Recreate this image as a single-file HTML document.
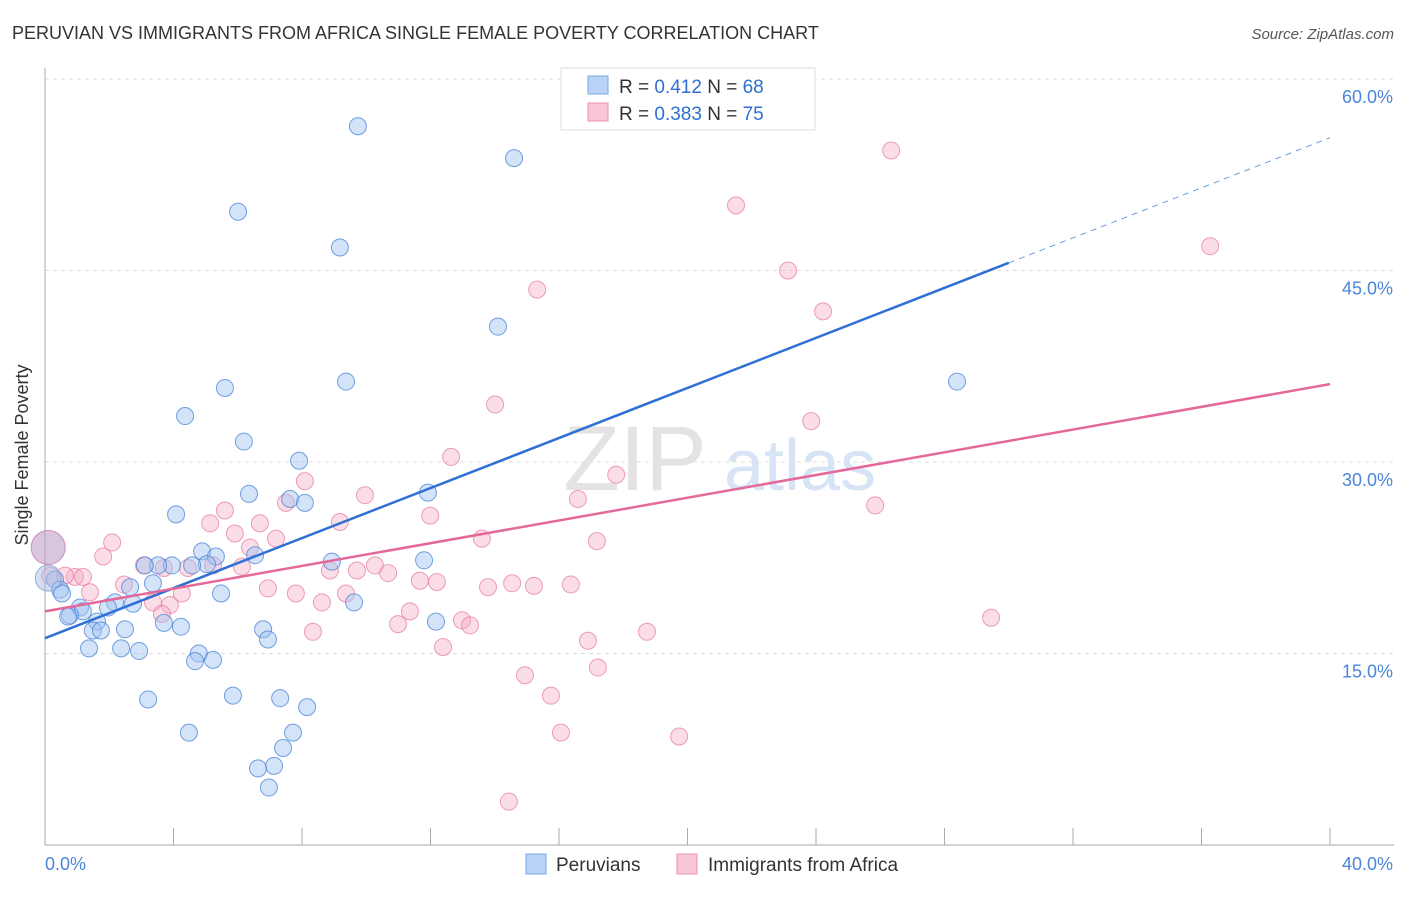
<!DOCTYPE html>
<html><head><meta charset="utf-8"><style>
body{margin:0;background:#fff;font-family:"Liberation Sans",sans-serif;}
svg text{font-family:"Liberation Sans",sans-serif;}
</style></head><body>
<svg id="chart" width="1406" height="892">
<text x="12" y="39" font-size="18" fill="#333">PERUVIAN VS IMMIGRANTS FROM AFRICA SINGLE FEMALE POVERTY CORRELATION CHART</text>
<text x="1394" y="39" font-size="15" fill="#555" font-style="italic" text-anchor="end">Source: ZipAtlas.com</text>
<g id="grid"></g>
<g id="watermark">
<text x="635" y="490" font-size="92" fill="#e3e3e3" font-family="Liberation Serif" text-anchor="middle">ZIP</text>
<text x="800" y="490" font-size="72" fill="#d6e4f5" text-anchor="middle">atlas</text>
</g>
<g id="axes"></g>
<g id="pinkPts"></g>
<g id="bluePts"></g>
<g id="lines"></g>
<text x="28" y="455" font-size="18" fill="#333" text-anchor="middle" transform="rotate(-90 28 455)">Single Female Poverty</text>
<g>
<rect x="561" y="68" width="254" height="62" fill="#fff" stroke="#ddd"/>
<rect x="588" y="76" width="20" height="18" fill="#b8d3f5" stroke="#7aa7e0"/>
<text x="619" y="93" font-size="19" fill="#333">R = <tspan fill="#2f6fd1">0.412</tspan>   N = <tspan fill="#2f6fd1">68</tspan></text>
<rect x="588" y="103" width="20" height="18" fill="#f8c6d4" stroke="#e893ad"/>
<text x="619" y="120" font-size="19" fill="#333">R = <tspan fill="#2f6fd1">0.383</tspan>   N = <tspan fill="#2f6fd1">75</tspan></text>
</g>
<g>
<rect x="526" y="854" width="20" height="20" fill="#b8d3f5" stroke="#7aa7e0"/>
<text x="556" y="871" font-size="19" fill="#333">Peruvians</text>
<rect x="677" y="854" width="20" height="20" fill="#f8c6d4" stroke="#e893ad"/>
<text x="708" y="871" font-size="19" fill="#333">Immigrants from Africa</text>
</g>
</svg>
<script>
const xTicks=[0,4,8,12,16,20,24,28,32,36,40];
const yTicks=[15,30,45,60];
const yTickLabels=["15.0%","30.0%","45.0%","60.0%"];
const blueX=[9.74,14.6,6.01,9.18,14.1,9.37,5.6,28.39,4.36,6.19,7.91,6.35,11.92,7.63,8.09,4.08,4.89,5.32,6.54,8.93,11.8,5.04,3.95,3.52,3.11,4.58,3.36,2.65,0.31,0.47,0.53,5.48,9.62,2.18,2.74,1.96,1.09,1.18,0.78,0.72,1.62,3.7,4.23,2.49,1.49,1.74,6.79,12.17,6.94,1.37,2.37,2.93,4.79,4.67,5.23,3.21,5.85,7.32,8.16,4.48,7.72,7.41,7.13,6.63,6.97];
const blueY=[56.3,53.8,49.6,46.8,40.6,36.3,35.8,36.3,33.6,31.6,30.1,27.5,27.6,27.1,26.8,25.9,23.0,22.6,22.7,22.2,22.3,22.0,21.9,21.9,21.9,21.9,20.5,20.2,20.8,20.0,19.7,19.7,19.0,19.0,18.9,18.6,18.6,18.3,18.0,17.9,17.5,17.4,17.1,16.9,16.8,16.8,16.9,17.5,16.1,15.4,15.4,15.2,15.0,14.4,14.5,11.4,11.7,11.5,10.8,8.8,8.8,7.6,6.2,6.0,4.5];
const pinkX=[26.34,21.51,36.27,23.13,15.32,24.22,14.01,23.85,12.64,17.78,8.09,9.96,16.59,7.5,11.99,25.84,5.14,9.18,6.69,5.6,5.91,17.18,13.6,7.19,2.09,6.38,1.81,5.23,3.08,3.7,4.45,6.13,8.87,9.71,10.27,10.68,11.67,12.2,14.54,13.79,15.22,16.37,2.46,6.94,7.81,9.37,4.26,3.36,3.89,3.64,8.62,11.36,10.99,12.98,13.23,1.4,0.93,0.62,1.18,0.16,16.9,18.74,29.45,12.39,17.21,14.94,15.75,8.34,16.06,19.74,14.44];
const pinkY=[54.4,50.1,46.9,45.0,43.5,41.8,34.5,33.2,30.4,29.0,28.5,27.4,27.1,26.8,25.8,26.6,25.2,25.3,25.2,26.2,24.4,23.8,24.0,24.0,23.7,23.3,22.6,21.9,21.9,21.7,21.7,21.8,21.5,21.5,21.9,21.3,20.7,20.6,20.5,20.2,20.3,20.4,20.4,20.1,19.7,19.7,19.7,19.0,18.8,18.1,19.0,18.3,17.3,17.6,17.2,19.8,21.0,21.1,21.0,21.1,16.0,16.7,17.8,15.5,13.9,13.3,11.7,16.7,8.8,8.5,3.4];
const bigX=[0.1,0.1];
const bigY=[23.3,20.9];
const blueTrend=[16.2,55.4];
const pinkTrend=[18.3,36.1];
const NS="http://www.w3.org/2000/svg";
const sx=v=>45+v/40*1285;
const sy=v=>845-v/60*766;
function mk(tag,attrs,parent){const e=document.createElementNS(NS,tag);for(const k in attrs)e.setAttribute(k,attrs[k]);parent.appendChild(e);return e;}
const grid=document.getElementById('grid'),axes=document.getElementById('axes');
yTicks.forEach((t,i)=>{
 const l=mk('line',{x1:45,x2:1394,y1:sy(t),y2:sy(t),stroke:'#ddd','stroke-dasharray':'4,4'},grid);
 
 
 const tx=mk('text',{x:1393,y:sy(t)+24,'font-size':18,fill:'#4a86d8','text-anchor':'end'},axes);
 tx.textContent=yTickLabels[i];
 
 
});
const ax=mk('line',{x1:45,x2:45,y1:68,y2:845,stroke:'#aaa'},axes);


const bx=mk('line',{x1:45,x2:1394,y1:845,y2:845,stroke:'#aaa'},axes);


xTicks.forEach(t=>{
 const l=mk('line',{x1:sx(t),x2:sx(t),y1:828,y2:845,stroke:'#aaa'},axes);
 
 
});
const xl0=mk('text',{x:45,y:870,'font-size':18,fill:'#4a86d8'},axes);xl0.textContent=xTicks[0].toFixed(1)+'%';


const xl1=mk('text',{x:1393,y:870,'font-size':18,fill:'#4a86d8','text-anchor':'end'},axes);xl1.textContent=xTicks[xTicks.length-1].toFixed(1)+'%';


const pg=document.getElementById('pinkPts'),bg=document.getElementById('bluePts');
pinkX.forEach((x,i)=>{
 const c=mk('circle',{cx:sx(x),cy:sy(pinkY[i]),r:8.5,fill:'rgba(245,170,195,0.4)',stroke:'rgba(230,120,155,0.7)','stroke-width':1},pg);
 
 
});
blueX.forEach((x,i)=>{
 const c=mk('circle',{cx:sx(x),cy:sy(blueY[i]),r:8.5,fill:'rgba(160,195,240,0.45)',stroke:'rgba(70,130,215,0.75)','stroke-width':1},bg);
 
 
});
const b1=mk('circle',{cx:sx(bigX[0]),cy:sy(bigY[0]),r:17,fill:'rgba(190,160,200,0.6)',stroke:'rgba(200,120,170,0.8)'},pg);


const b2=mk('circle',{cx:sx(bigX[1]),cy:sy(bigY[1]),r:13,fill:'rgba(170,190,230,0.5)',stroke:'rgba(120,150,215,0.7)'},bg);


const lg=document.getElementById('lines');
const bEnd=30;
const by=x=>blueTrend[0]+(blueTrend[1]-blueTrend[0])*x/40;
const l1=mk('line',{x1:sx(0),y1:sy(by(0)),x2:sx(bEnd),y2:sy(by(bEnd)),stroke:'#2f6fd6','stroke-width':2.5},lg);


const l2=mk('line',{x1:sx(bEnd),y1:sy(by(bEnd)),x2:sx(40),y2:sy(by(40)),stroke:'#6d9de0','stroke-width':1,'stroke-dasharray':'6,5'},lg);


const l3=mk('line',{x1:sx(0),y1:sy(pinkTrend[0]),x2:sx(40),y2:sy(pinkTrend[1]),stroke:'#e5689a','stroke-width':2.5},lg);


</script>
</body></html>
